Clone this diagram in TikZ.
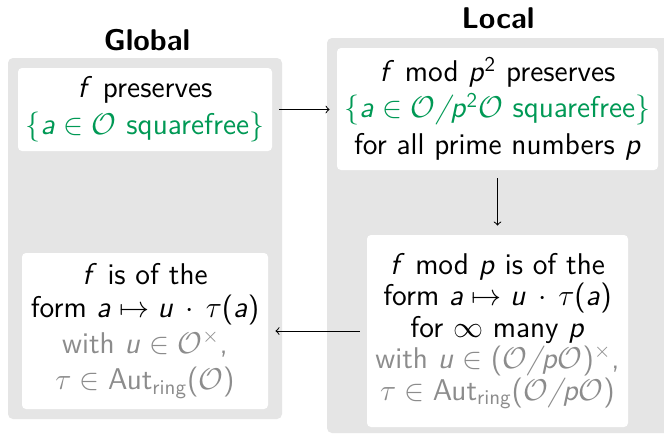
\RequirePackage{fix-cm}
\documentclass[tikz,border=0pt]{standalone}
\usepackage{amsmath}
\renewcommand{\familydefault}{\sfdefault}
\SetSymbolFont{operators}{normal}{OT1}{cmss}{m}{n}
\DeclareSymbolFont{sfletters}{OT1}{cmss}{m}{sl}
\DeclareMathSymbol{a}{\mathalpha}{sfletters}{`a}
\DeclareMathSymbol{f}{\mathalpha}{sfletters}{`f}
\DeclareMathSymbol{p}{\mathalpha}{sfletters}{`p}
\DeclareMathSymbol{u}{\mathalpha}{sfletters}{`u}
\DeclareMathSymbol{/}{\mathord}{sfletters}{`/}
\definecolor{boxgrey}{RGB}{229,229,229}
\definecolor{setgreen}{RGB}{0,153,85}
\definecolor{notegrey}{RGB}{140,140,140}
\begin{document}
\begin{tikzpicture}[x=0.5pt,y=-0.5pt,
  panel/.style={fill=boxgrey, rounded corners=2.5pt},
  claim/.style={fill=white, rounded corners=2pt, align=center, inner sep=0pt,
    font=\fontsize{15}{16}\selectfont},
  paneltitle/.style={font=\fontsize{15}{18}\selectfont\bfseries},
  imp/.style={->, line width=0.5pt}]
\clip (0,0) rectangle (664,436);
\fill[white] (0,0) rectangle (664,436);
% panels
\path[panel] (8,58) rectangle (282,419);
\path[panel] (327,38) rectangle (680,433);
\node[paneltitle] (tg) at (147,40) {Global};
\node[paneltitle] (tl) at (498,18) {Local};
% claims
\node[claim, minimum width=127pt, minimum height=41.5pt] (g1) at (145,109.5)
  {$f$ preserves\\[2.5pt] \textcolor{setgreen}{$\{a\in\mathcal{O}$ squarefree$\}$}};
\node[claim, minimum width=123pt, minimum height=78pt] (g2) at (145,331)
  {$f$ is of the\\[0.5pt] form $a\mapsto u\,\cdot\,\tau(a)$\\[2pt]
   \textcolor{notegrey}{with $u\in\mathcal{O}^\times$,}\\[2pt]
   \textcolor{notegrey}{$\tau\in\text{Aut}_{\text{ring}}(\mathcal{O})$}};
\node[claim, minimum width=160.5pt, minimum height=61pt] (l1) at (497.5,109)
  {$f$ mod $p^2$ preserves\\[2pt]
   \textcolor{setgreen}{$\{a\in\mathcal{O}/p^2\mathcal{O}$ squarefree$\}$}\\[2.5pt]
   for all prime numbers $p$};
\node[claim, minimum width=130.5pt, minimum height=96pt,
  font=\fontsize{15}{15.75}\selectfont] (l2) at (497.5,331)
  {$f$ mod $p$ is of the\\ form $a\mapsto u\,\cdot\,\tau(a)$\\ for $\infty$ many $p$\\
   \textcolor{notegrey}{with $u\in(\mathcal{O}/p\mathcal{O})^\times$,}\\
   \textcolor{notegrey}{$\tau\in\text{Aut}_{\text{ring}}(\mathcal{O}/p\mathcal{O})$}};
% implications
\draw[imp, shorten <=3.5pt, shorten >=3.5pt] (g1.east) -- (l1.west |- g1.east);
\draw[imp, shorten <=4pt, shorten >=4.5pt] (l1.south) -- (l2.north);
\draw[imp, shorten <=3.5pt, shorten >=3.5pt] (l2.west) -- (g2.east);
\end{tikzpicture}
\end{document}
